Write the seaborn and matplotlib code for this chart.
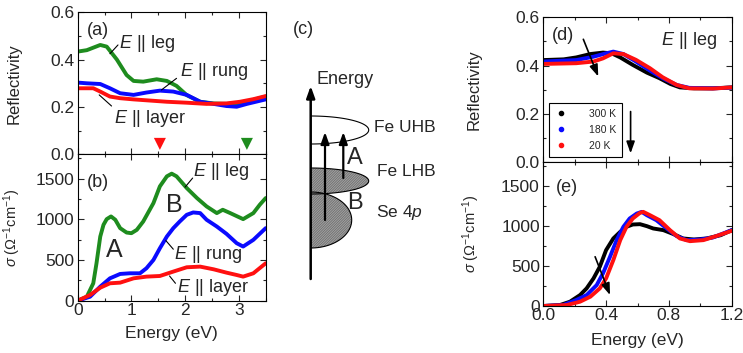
import numpy as np
import matplotlib
matplotlib.use("Agg")
import matplotlib.pyplot as plt
from matplotlib.ticker import MultipleLocator
from matplotlib.lines import Line2D
import seaborn as sns

# ---- (a) reflectivity, three polarizations ----
a_leg_e = [0, 0.17, 0.42, 0.54, 0.73, 0.91, 1.04, 1.22, 1.47, 1.66, 1.84, 2.03, 2.28, 2.53, 2.77, 3.02, 3.27, 3.5]
a_leg_r = [0.434, 0.44, 0.462, 0.455, 0.40, 0.335, 0.31, 0.307, 0.317, 0.31, 0.289, 0.25, 0.222, 0.215, 0.213, 0.215, 0.23, 0.244]
a_rung_e = [0, 0.17, 0.42, 0.6, 0.79, 1.04, 1.28, 1.53, 1.78, 2.03, 2.28, 2.53, 2.77, 2.96, 3.15, 3.5]
a_rung_r = [0.303, 0.30, 0.297, 0.279, 0.258, 0.251, 0.261, 0.269, 0.265, 0.251, 0.222, 0.213, 0.204, 0.201, 0.213, 0.232]
a_layer_e = [0, 0.29, 0.42, 0.6, 0.79, 1.04, 1.35, 1.66, 2.03, 2.4, 2.77, 3.02, 3.27, 3.5]
a_layer_r = [0.279, 0.279, 0.265, 0.244, 0.237, 0.232, 0.227, 0.222, 0.218, 0.213, 0.215, 0.222, 0.233, 0.246]
mark_e = [1.53, 3.15]
mark_y = [0.044, 0.044]

# ---- (b) optical conductivity ----
b_leg_e = [0, 0.17, 0.29, 0.35, 0.42, 0.48, 0.54, 0.62, 0.7, 0.79, 0.91, 1.0, 1.1, 1.22, 1.41, 1.53, 1.66, 1.75,
           1.84, 2.03, 2.22, 2.4, 2.59, 2.7, 2.84, 3.08, 3.27, 3.39, 3.5]
b_leg_s = [0, 49, 214, 460, 789, 933, 1003, 1036, 995, 892, 838, 830, 871, 974, 1200, 1406, 1529, 1562,
           1529, 1385, 1262, 1159, 1077, 1118, 1077, 1003, 1077, 1180, 1262]
b_rung_e = [0, 0.23, 0.42, 0.6, 0.79, 0.97, 1.16, 1.28, 1.41, 1.53, 1.66, 1.78, 1.9, 2.03, 2.15, 2.28, 2.4,
            2.59, 2.77, 2.96, 3.08, 3.27, 3.5]
b_rung_s = [0, 49, 173, 275, 329, 337, 337, 399, 501, 645, 789, 892, 974, 1056, 1085, 1077, 995,
            912, 822, 707, 666, 748, 892]
b_layer_e = [0, 0.23, 0.42, 0.6, 0.79, 1.04, 1.28, 1.53, 1.78, 2.03, 2.28, 2.53, 2.77, 2.96, 3.08, 3.27, 3.5]
b_layer_s = [0, 70, 160, 214, 222, 275, 296, 304, 358, 411, 419, 386, 345, 316, 296, 337, 460]

# ---- (d) reflectivity vs temperature, E || leg ----
temps = ["300 K", "180 K", "20 K"]
d_e_300 = [0, 0.13, 0.21, 0.3, 0.38, 0.435, 0.49, 0.57, 0.66, 0.74, 0.81, 0.87, 0.96, 1.08, 1.2]
d_r_300 = [0.423, 0.426, 0.434, 0.448, 0.454, 0.451, 0.434, 0.403, 0.371, 0.348, 0.324, 0.310, 0.306, 0.306, 0.31]
d_e_180 = [0, 0.21, 0.32, 0.40, 0.446, 0.51, 0.59, 0.68, 0.76, 0.85, 0.93, 1.08, 1.2]
d_r_180 = [0.417, 0.423, 0.437, 0.451, 0.458, 0.448, 0.417, 0.379, 0.348, 0.32, 0.308, 0.306, 0.309]
d_e_20 = [0, 0.21, 0.32, 0.38, 0.446, 0.51, 0.59, 0.68, 0.76, 0.85, 0.93, 1.08, 1.2]
d_r_20 = [0.407, 0.41, 0.417, 0.43, 0.451, 0.448, 0.424, 0.389, 0.352, 0.32, 0.306, 0.305, 0.31]

# ---- (e) conductivity vs temperature ----
e_e_300 = [0, 0.106, 0.17, 0.234, 0.276, 0.32, 0.36, 0.4, 0.446, 0.49, 0.53, 0.57, 0.616, 0.66, 0.70, 0.765,
           0.83, 0.89, 0.96, 1.04, 1.13, 1.2]
e_s_300 = [0, 12, 54, 137, 221, 346, 492, 700, 846, 929, 992, 1021, 1025, 1000, 971, 950,
           900, 846, 833, 846, 887, 950]
e_e_180 = [0, 0.127, 0.21, 0.276, 0.34, 0.38, 0.425, 0.467, 0.51, 0.55, 0.595, 0.627, 0.66, 0.72, 0.786,
           0.85, 0.913, 1.0, 1.08, 1.2]
e_s_180 = [0, 12, 75, 137, 262, 408, 617, 825, 992, 1096, 1158, 1179, 1137, 1075, 971,
           875, 825, 833, 858, 950]
e_e_20 = [0, 0.15, 0.234, 0.3, 0.36, 0.40, 0.446, 0.49, 0.53, 0.57, 0.616, 0.637, 0.68, 0.74, 0.807,
          0.87, 0.934, 1.02, 1.1, 1.2]
e_s_20 = [0, 12, 54, 117, 221, 346, 575, 825, 992, 1096, 1167, 1179, 1137, 1075, 950,
          846, 812, 825, 875, 942]

# ---- (c) schematic bands (reference pixel units) ----
band_names = ["Fe UHB", "Fe LHB", "Se 4$p$"]
band_top = [116, 168, 192]
band_bottom = [144, 194, 248]
band_width = [58, 58, 41]
band_filled = [False, True, True]

GREEN, BLUE, RED = "#1e8c1e", "#0a0aff", "#ff1010"
T_COLORS = ["black", BLUE, RED]
TXT = 13      # in-panel annotations
TICK = 12.5
LAB = 12
SIGMA_LABEL = r"$\sigma$ ($\Omega^{-1}$cm$^{-1}$)"

sns.set_style("ticks")
plt.rcParams["font.family"] = ["Liberation Sans", "DejaVu Sans"]
plt.rcParams.update({
    "mathtext.fontset": "custom",
    "mathtext.rm": "Liberation Sans",
    "mathtext.it": "Liberation Sans:italic",
    "font.size": 10,
    "axes.linewidth": 0.8,
    "hatch.linewidth": 0.4,
})

W, H = 743, 353
fig = plt.figure(figsize=(W / 100, H / 100), dpi=100)


def px_axes(left, top, right, bottom):
    return fig.add_axes([left / W, 1 - bottom / H, (right - left) / W, (bottom - top) / H])


def style(ax, xmaj, xmin, ymaj, ymin):
    ax.xaxis.set_major_locator(MultipleLocator(xmaj))
    ax.xaxis.set_minor_locator(MultipleLocator(xmin))
    ax.yaxis.set_major_locator(MultipleLocator(ymaj))
    ax.yaxis.set_minor_locator(MultipleLocator(ymin))
    ax.tick_params(which="both", direction="in", top=True, right=True, width=0.8, labelsize=TICK)
    ax.tick_params(axis="y", pad=2.5)
    ax.tick_params(axis="x", pad=1.5)
    ax.tick_params(which="major", length=4)
    ax.tick_params(which="minor", length=2)
    for s in ax.spines.values():
        s.set_color("black")


def curve(ax, x, y, c):
    sns.lineplot(x=x, y=y, ax=ax, color=c, lw=2.8, errorbar=None, legend=False)


def leader(ax, p0, p1):
    ax.annotate("", xy=p0, xytext=p1,
                arrowprops=dict(arrowstyle="-", lw=0.8, color="black", shrinkA=0, shrinkB=0))


def arrow(ax, p0, p1, lw=1.2):
    ax.annotate("", xy=p1, xytext=p0,
                arrowprops=dict(arrowstyle="-|>,head_width=0.25,head_length=0.7", lw=lw,
                                color="black", shrinkA=0, shrinkB=0))


# ---------------- (a) ----------------
ax_a = px_axes(77.7, 12.3, 265.7, 154.3)
curve(ax_a, a_leg_e, a_leg_r, GREEN)
curve(ax_a, a_rung_e, a_rung_r, BLUE)
curve(ax_a, a_layer_e, a_layer_r, RED)
sns.scatterplot(x=mark_e, y=mark_y, ax=ax_a, marker="v", s=75, hue=mark_e,
                palette=[RED, GREEN], legend=False, linewidth=0)
ax_a.set_xlim(0, 3.5)
ax_a.set_ylim(0, 0.6)
style(ax_a, 1, 0.5, 0.2, 0.1)
ax_a.set_xticklabels([])
ax_a.set_xlabel("")
ax_a.set_ylabel("Reflectivity", fontsize=LAB)
ax_a.yaxis.set_label_coords(-0.30, 0.5)
ax_a.text(0.17, 0.521, "(a)", fontsize=TXT, va="center")
ax_a.text(0.77, 0.469, "$E$ || leg", fontsize=TXT, va="center")
leader(ax_a, (0.60, 0.425), (0.75, 0.462))
ax_a.text(1.90, 0.349, "$E$ || rung", fontsize=TXT, va="center")
leader(ax_a, (1.56, 0.272), (1.84, 0.321))
ax_a.text(0.67, 0.152, "$E$ || layer", fontsize=TXT, va="center")
leader(ax_a, (0.40, 0.251), (0.63, 0.204))

# ---------------- (b) ----------------
ax_b = px_axes(77.7, 154.3, 265.7, 300.7)
curve(ax_b, b_leg_e, b_leg_s, GREEN)
curve(ax_b, b_rung_e, b_rung_s, BLUE)
curve(ax_b, b_layer_e, b_layer_s, RED)
ax_b.set_xlim(0, 3.5)
ax_b.set_ylim(0, 1800)
style(ax_b, 1, 0.5, 500, 250)
ax_b.set_xlabel("Energy (eV)", fontsize=TICK)
ax_b.xaxis.set_label_coords(0.5, -0.17)
ax_b.set_ylabel(SIGMA_LABEL, fontsize=10.5)
ax_b.yaxis.set_label_coords(-0.29, 0.5)
ax_b.text(0.18, 1455, "(b)", fontsize=TXT, va="center")
ax_b.text(2.15, 1591, "$E$ || leg", fontsize=TXT, va="center")
leader(ax_b, (2.0, 1397), (2.14, 1508))
ax_b.text(1.79, 571, "$E$ || rung", fontsize=TXT, va="center")
leader(ax_b, (1.64, 740), (1.78, 633))
ax_b.text(1.84, 160, "$E$ || layer", fontsize=TXT, va="center")
leader(ax_b, (1.71, 304), (1.82, 214))
ax_b.text(0.53, 625, "A", fontsize=18, va="center")
ax_b.text(1.65, 1180, "B", fontsize=18, va="center")

# ---------------- (c) schematic ----------------
ax_c = px_axes(280, 0, 480, 353)
ax_c.set_xlim(280, 480)
ax_c.set_ylim(353, 0)
ax_c.axis("off")
x0 = 310.7
theta = np.linspace(-np.pi / 2, np.pi / 2, 120)
for name, top, bot, w, filled in zip(band_names, band_top, band_bottom, band_width, band_filled):
    yc, h = (top + bot) / 2, (bot - top) / 2
    ys = yc + h * np.sin(theta)
    xs = x0 + w * np.cos(theta)
    if filled:
        ax_c.fill_betweenx(ys, x0, xs, facecolor="#c4c4c4", hatch="/" * 20,
                           edgecolor="#4a4a4a", linewidth=0)
    ax_c.plot(xs, ys, color="black", lw=0.8)
arrow(ax_c, (x0, 279), (x0, 86), lw=1.8)
arrow(ax_c, (325, 220), (325, 132), lw=1.6)
arrow(ax_c, (343.3, 178), (343.3, 132), lw=1.6)
ax_c.text(303, 30, "(c)", fontsize=TXT, ha="center", va="center")
ax_c.text(317, 80, "Energy", fontsize=TXT, va="center")
ax_c.text(374, 128, band_names[0], fontsize=12.5, va="center")
ax_c.text(377, 171, band_names[1], fontsize=12.5, va="center")
ax_c.text(376, 213, band_names[2], fontsize=12.5, va="center")
ax_c.text(347, 158, "A", fontsize=17, va="center")
ax_c.text(347, 203, "B", fontsize=17, va="center")

# ---------------- (d) ----------------
ax_d = px_axes(543.3, 17.3, 731.7, 162.3)
for e, r, c in zip([d_e_300, d_e_180, d_e_20], [d_r_300, d_r_180, d_r_20], T_COLORS):
    curve(ax_d, e, r, c)
ax_d.set_xlim(0, 1.2)
ax_d.set_ylim(0, 0.6)
style(ax_d, 0.4, 0.2, 0.2, 0.1)
ax_d.set_xticklabels([])
ax_d.set_xlabel("")
ax_d.set_ylabel("Reflectivity", fontsize=LAB)
ax_d.yaxis.set_label_coords(-0.33, 0.5)
ax_d.text(0.055, 0.523, "(d)", fontsize=TXT, va="center")
ax_d.text(1.11, 0.503, "$E$ || leg", fontsize=TXT, va="center", ha="right")
arrow(ax_d, (0.255, 0.509), (0.35, 0.355))
arrow(ax_d, (0.556, 0.21), (0.556, 0.037))
handles = [Line2D([], [], marker="o", ls="none", color=c, markersize=3) for c in T_COLORS]
leg = ax_d.legend(handles, temps, loc="lower left", bbox_to_anchor=(0.032, 0.038), fontsize=7.5,
                  frameon=True, fancybox=False, edgecolor="black", framealpha=1,
                  handlelength=1.0, handletextpad=2.2, borderpad=0.6, labelspacing=0.55,
                  borderaxespad=0)
leg.get_frame().set_linewidth(0.8)

# ---------------- (e) ----------------
ax_e = px_axes(543.3, 162.3, 731.7, 306)
for e, s, c in zip([e_e_300, e_e_180, e_e_20], [e_s_300, e_s_180, e_s_20], T_COLORS):
    curve(ax_e, e, s, c)
ax_e.set_xlim(0, 1.2)
ax_e.set_ylim(0, 1800)
style(ax_e, 0.4, 0.2, 500, 250)
ax_e.set_xlabel("Energy (eV)", fontsize=TICK)
ax_e.xaxis.set_label_coords(0.5, -0.19)
ax_e.set_ylabel(SIGMA_LABEL, fontsize=10.5)
ax_e.yaxis.set_label_coords(-0.325, 0.5)
ax_e.text(0.08, 1490, "(e)", fontsize=TXT, va="center")
arrow(ax_e, (0.33, 617), (0.425, 137))

fig.savefig("out.png", dpi=100)
